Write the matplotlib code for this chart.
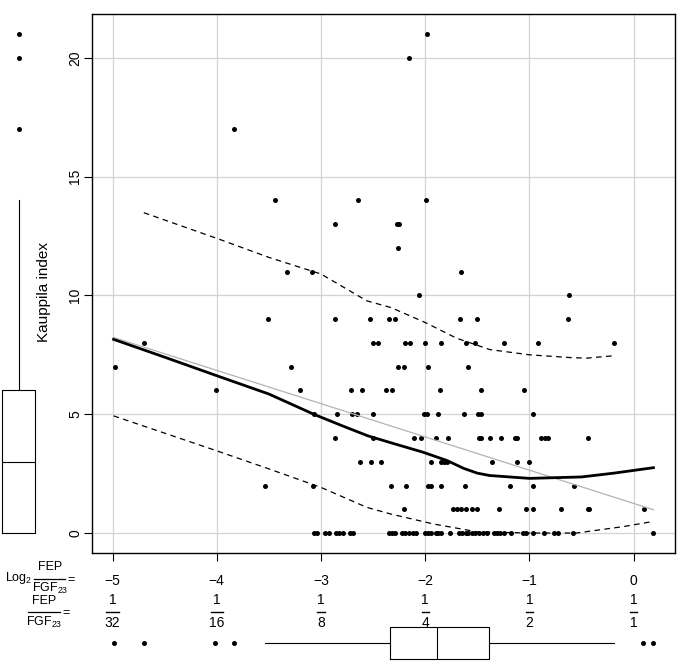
import matplotlib
matplotlib.use("Agg")
import matplotlib.pyplot as plt
import matplotlib.transforms as mtransforms

plt.rcParams["font.family"] = ["Liberation Sans", "DejaVu Sans"]
plt.rcParams["mathtext.fontset"] = "custom"
plt.rcParams["mathtext.rm"] = "Liberation Sans"
plt.rcParams["font.size"] = 10

# Kauppila index (y) and log2(FEP/FGF23) values (x), grouped by index level
levels = [0, 1, 2, 3, 4, 5, 6, 7, 8, 9, 10, 11, 12, 13, 14, 17, 20, 21]
x_by_level = [
    [-3.07, -3.04, -2.96, -2.92, -2.86, -2.83, -2.79, -2.72, -2.69, -2.35, -2.32, -2.29,
     -2.22, -2.19, -2.16, -2.12, -2.09, -2.00, -1.97, -1.94, -1.90, -1.88, -1.85, -1.76,
     -1.68, -1.65, -1.61, -1.59, -1.55, -1.52, -1.48, -1.45, -1.41, -1.34, -1.31, -1.28,
     -1.24, -1.18, -1.06, -1.03, -0.97, -0.86, -0.76, -0.73, -0.58, 0.19],
    [-2.20, -1.73, -1.69, -1.66, -1.61, -1.55, -1.50, -1.29, -1.03, -0.97, -0.70, -0.44,
     -0.43, 0.10],
    [-3.54, -3.08, -2.33, -2.18, -1.97, -1.94, -1.85, -1.62, -1.19, -0.97, -0.57],
    [-2.63, -2.52, -2.42, -1.94, -1.85, -1.82, -1.79, -1.36, -1.12, -1.00],
    [-2.87, -2.50, -2.11, -2.04, -1.90, -1.78, -1.48, -1.46, -1.38, -1.27, -1.14, -1.12,
     -0.89, -0.85, -0.82, -0.44],
    [-3.07, -2.85, -2.70, -2.65, -2.50, -2.01, -1.98, -1.88, -1.63, -1.49, -1.46, -0.97],
    [-4.01, -3.20, -2.71, -2.61, -2.38, -2.32, -1.86, -1.46, -1.05],
    [-4.98, -3.29, -2.26, -2.20, -1.97, -1.59],
    [-4.70, -2.50, -2.45, -2.19, -2.15, -2.00, -1.85, -1.61, -1.52, -1.24, -0.92, -0.19],
    [-3.51, -2.87, -2.53, -2.35, -2.29, -1.67, -1.50, -0.63],
    [-2.06, -0.62],
    [-3.33, -3.09, -1.66],
    [-2.26],
    [-2.87, -2.27, -2.25],
    [-3.44, -2.64, -1.99],
    [-3.83],
    [-2.16],
    [-1.98],
]

# smoothed fit (thick), its bands (dashed) and linear fit (grey)
smooth_x = [-4.99, -4.50, -4.00, -3.50, -3.07, -2.80, -2.55, -2.33, -2.02, -1.79, -1.63,
            -1.50, -1.38, -1.00, -0.50, -0.19, 0.19]
smooth_y = [8.15, 7.40, 6.62, 5.85, 5.00, 4.52, 4.09, 3.80, 3.40, 3.05, 2.72, 2.52, 2.42,
            2.30, 2.36, 2.52, 2.75]
upper_x = [-4.70, -4.00, -3.50, -3.00, -2.56, -2.33, -2.00, -1.70, -1.38, -1.00, -0.60,
           -0.45, -0.19]
upper_y = [13.48, 12.40, 11.60, 10.90, 9.77, 9.49, 8.86, 8.20, 7.72, 7.50, 7.38, 7.36, 7.46]
lower_x = [-4.99, -4.00, -3.50, -3.00, -2.56, -2.33, -1.92, -1.50, -1.00, -0.55, -0.30,
           -0.10, 0.19]
lower_y = [4.93, 3.46, 2.70, 1.92, 1.08, 0.80, 0.38, 0.05, 0.00, 0.00, 0.15, 0.27, 0.49]
linear_x = [-4.99, 0.19]
linear_y = [8.23, 0.98]

# marginal boxplot summaries
y_box = dict(med=3, q1=0, q3=6, whislo=0, whishi=14, fliers=[17, 20, 21])
x_box = dict(med=-1.89, q1=-2.34, q3=-1.39, whislo=-3.54, whishi=-0.19,
             fliers=[-4.99, -4.70, -4.02, -3.83, 0.09, 0.19])

x_ticks = [-5, -4, -3, -2, -1, 0]
x_ticklabels = ["\u22125", "\u22124", "\u22123", "\u22122", "\u22121", "0"]
frac_denoms = ["32", "16", "8", "4", "2", "1"]
y_ticks = [0, 5, 10, 15, 20]

W, H = 685, 666
fig = plt.figure(figsize=(W / 100, H / 100), dpi=100)


def fx(px):
    return px / W


def fy(py):
    return 1 - py / H


ax = fig.add_axes([fx(92), fy(553), fx(675) - fx(92), fy(14) - fy(553)])
ax.set_xlim(-5.197, 0.397)
ax.set_ylim(-0.84, 21.84)
ax.set_xticks(x_ticks)
ax.set_xticklabels(x_ticklabels)
ax.set_yticks(y_ticks)
ax.set_yticklabels([str(v) for v in y_ticks], rotation=90, va="center")
ax.tick_params(direction="out", length=6, width=0.8, labelsize=10)
ax.tick_params(axis="x", pad=9)
ax.tick_params(axis="y", pad=1)
ax.grid(True, color="#d3d3d3", lw=0.9)
ax.set_axisbelow(True)
for s in ax.spines.values():
    s.set_linewidth(1.0)

xs, ys = [], []
for lev, xl in zip(levels, x_by_level):
    xs += xl
    ys += [lev] * len(xl)
ax.plot(xs, ys, "o", color="black", ms=3.6, mew=0, zorder=3)

ax.plot(linear_x, linear_y, color="#b3b3b3", lw=0.9, zorder=4)
ax.plot(smooth_x, smooth_y, color="black", lw=2.0, zorder=5)
ax.plot(upper_x, upper_y, color="black", lw=0.9, dashes=(4.5, 3.5), zorder=5)
ax.plot(lower_x, lower_y, color="black", lw=0.9, dashes=(4.5, 3.5), zorder=5)

fig.text(fx(44), fy(292), "Kauppila index", rotation=90, ha="center", va="center",
         fontsize=11)

# left marginal boxplot
axl = fig.add_axes([0, fy(553), fx(37), fy(14) - fy(553)], sharey=ax)
axl.bxp([y_box], positions=[0], widths=1.78, showcaps=False,
        boxprops=dict(lw=0.8), whiskerprops=dict(lw=0.8, ls="-"),
        medianprops=dict(color="black", lw=0.8),
        flierprops=dict(marker="o", markerfacecolor="black", markeredgewidth=0, ms=3.6))
axl.set_xlim(-1, 1)
axl.axis("off")

# bottom marginal boxplot
axb = fig.add_axes([fx(92), fy(666), fx(675) - fx(92), fy(620) - fy(666)], sharex=ax)
axb.bxp([x_box], positions=[0], widths=1.39, showcaps=False, orientation="horizontal",
        boxprops=dict(lw=0.8), whiskerprops=dict(lw=0.8, ls="-"),
        medianprops=dict(color="black", lw=0.8),
        flierprops=dict(marker="o", markerfacecolor="black", markeredgewidth=0, ms=3.6))
axb.set_ylim(-1, 1)
axb.axis("off")

# fraction labels under the x ticks
tr = mtransforms.blended_transform_factory(ax.transData, fig.transFigure)
for xv, den in zip(x_ticks, frac_denoms):
    ax.text(xv, fy(600), "1", transform=tr, ha="center", va="center", fontsize=10)
    hw = 0.058 if len(den) > 1 else 0.034
    ax.plot([xv - hw, xv + hw], [fy(611.5), fy(611.5)], color="black", lw=1.0,
            transform=tr, clip_on=False)
    ax.text(xv, fy(623), den, transform=tr, ha="center", va="center", fontsize=10)

# left-hand row labels
fs = 9
fig.text(fx(5), fy(578), r"Log$\mathregular{_2}$", ha="left", va="center", fontsize=fs)
fig.text(fx(50), fy(567), "FEP", ha="center", va="center", fontsize=fs)
fig.add_artist(plt.Line2D([fx(34), fx(65)], [fy(579), fy(579)], color="black", lw=0.9))
fig.text(fx(50), fy(588), r"FGF$\mathregular{_{23}}$", ha="center", va="center",
         fontsize=fs)
fig.text(fx(67), fy(580), "=", ha="left", va="center", fontsize=fs)

fig.text(fx(44), fy(601), "FEP", ha="center", va="center", fontsize=fs)
fig.add_artist(plt.Line2D([fx(28), fx(60)], [fy(612), fy(612)], color="black", lw=0.9))
fig.text(fx(44), fy(622), r"FGF$\mathregular{_{23}}$", ha="center", va="center",
         fontsize=fs)
fig.text(fx(62), fy(613), "=", ha="left", va="center", fontsize=fs)

fig.savefig("out.png", dpi=100)
